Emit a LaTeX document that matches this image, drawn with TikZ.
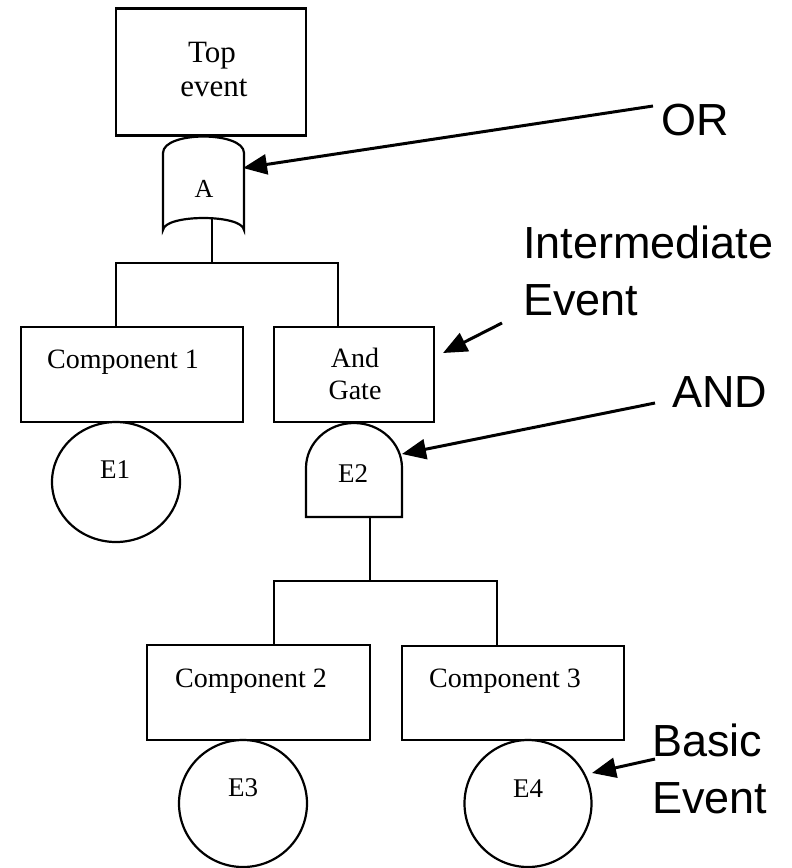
\documentclass[tikz,border=0pt]{standalone}
\usepackage{fontspec}
\setmainfont{Liberation Serif}
\newfontfamily\labelsans{Liberation Sans}
\usetikzlibrary{arrows.meta,shapes.geometric}

\begin{document}
\begin{tikzpicture}[x=1pt,y=1pt,
    line width=2.2pt,
    evbox/.style={draw, rectangle, inner sep=0pt, line width=2.2pt},
    basic/.style={draw, ellipse, inner sep=0pt, line width=2.2pt},
    txt/.style={inner sep=0pt, anchor=base, font=\fontsize{28}{32}\selectfont},
    gatetxt/.style={inner sep=0pt, anchor=base, font=\fontsize{27}{30}\selectfont},
    note/.style={inner sep=0pt, anchor=base west, font=\labelsans\fontsize{45}{50}\selectfont},
    pointer/.style={line width=3pt, -{Triangle[length=24pt,width=20pt]}}
  ]
\useasboundingbox (0,0) rectangle (792,-868);

% --- event boxes ---------------------------------------------------------
\node[evbox, minimum width=190pt, minimum height=127pt] (top)   at (211,-72)  {};
\node[evbox, minimum width=222pt, minimum height=95pt]  (comp1) at (132,-374.5) {};
\node[evbox, minimum width=160pt, minimum height=95pt]  (andev) at (354,-374.5) {};
\node[evbox, minimum width=223pt, minimum height=95pt]  (comp2) at (258.5,-692.5) {};
\node[evbox, minimum width=222pt, minimum height=94pt]  (comp3) at (513,-693) {};

\node[txt, font=\fontsize{31}{34}\selectfont] (toplab1) at (212,-62) {Top};
\node[txt, font=\fontsize{31}{34}\selectfont] (toplab2) at (214,-96) {event};
\node[txt] (c1lab) at (123,-368) {Component 1};
\node[txt] (anlab1) at (355,-367) {And};
\node[txt] (anlab2) at (355,-399) {Gate};
\node[txt] (c2lab) at (251,-687) {Component 2};
\node[txt] (c3lab) at (505,-687) {Component 3};

% --- basic events ----------------------------------------------------------
\node[basic, minimum width=128pt, minimum height=120pt] (e1) at (116,-482) {};
\node[basic, minimum width=128pt, minimum height=127pt] (e3) at (243,-803.5) {};
\node[basic, minimum width=127pt, minimum height=127pt] (e4) at (528,-803.5) {};
\node[gatetxt] (e1lab) at (115,-478) {E1};
\node[gatetxt] (e3lab) at (243,-796) {E3};
\node[gatetxt] (e4lab) at (528,-797) {E4};

% --- OR gate ----------------------------------------------------------------
\coordinate (orout) at (212,-218);
\draw (163,-153) .. controls (163,-131) and (244,-131) .. (244,-153)
      -- (244,-230) .. controls (242,-214) and (165,-214) .. (163,-230) -- cycle;
\node[gatetxt, font=\fontsize{26}{30}\selectfont] (orlab) at (204,-197) {A};
\coordinate (orright) at (243,-168);

% --- AND gate ---------------------------------------------------------------
\draw (306,-517) -- (306,-468) arc[start angle=180, end angle=0, x radius=48, y radius=45]
      -- (402,-517) -- cycle;
\coordinate (andout) at (370,-517);
\coordinate (andright) at (402,-454);
\node[gatetxt] (e2lab) at (353,-482) {E2};

% --- tree connectors ----------------------------------------------------------
\coordinate (c1in) at (116,-327);
\coordinate (anin) at (338,-327);
\coordinate (bus1) at (212,-263);
\coordinate (c2in) at (274,-645);
\coordinate (c3in) at (497,-646);
\coordinate (bus2) at (370,-581);

\draw (orout) -- (bus1);
\draw (c1in) |- (bus1) -| (anin);
\draw (andout) -- (bus2);
\draw (c2in) |- (bus2) -| (c3in);

% --- annotations --------------------------------------------------------------
\node[note] (ornote)   at (660,-135) {OR};
\node[note] (intnote1) at (522,-258) {Intermediate};
\node[note] (intnote2) at (522,-315) {Event};
\node[note] (andnote)  at (671,-407) {AND};
\node[note] (basnote1) at (651,-756) {Basic};
\node[note] (basnote2) at (651,-813) {Event};

\coordinate (ortail)  at (653,-106);
\coordinate (inttail) at (502,-323);
\coordinate (inttip)  at (443,-353);
\coordinate (andtail) at (655,-403);
\coordinate (bastail) at (655,-759);
\coordinate (bastip)  at (592,-773);

\draw[pointer] (ortail) -- (orright);
\draw[pointer] (inttail) -- (inttip);
\draw[pointer] (andtail) -- (andright);
\draw[pointer] (bastail) -- (bastip);
\end{tikzpicture}
\end{document}
